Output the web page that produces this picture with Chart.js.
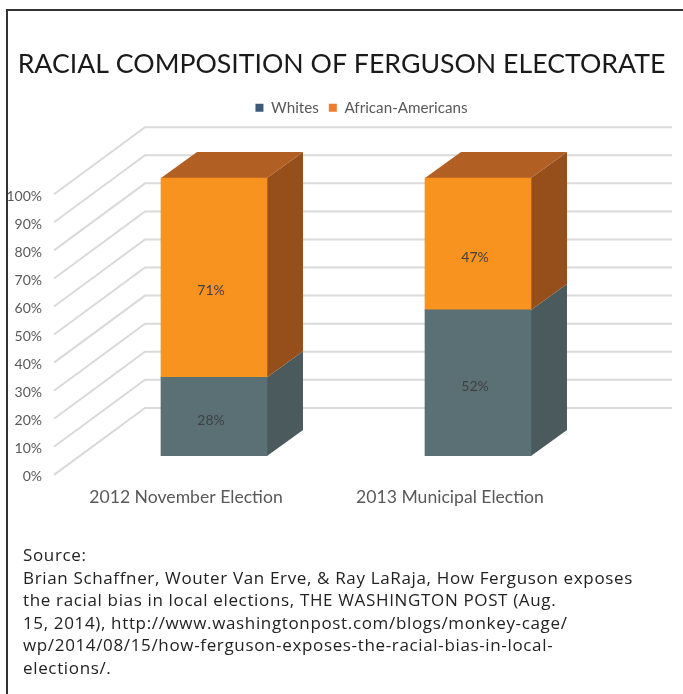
<!DOCTYPE html>
<html>
<head>
<meta charset="utf-8">
<script src="https://cdn.jsdelivr.net/npm/chart.js@4"></script>
<style>
  body { margin: 0; background: #fff; width: 683px; height: 694px; overflow: hidden; position: relative; }
  #graph { position: absolute; left: 0; top: 0; }
  #frame { position: absolute; left: 6px; top: 9px; width: 690px; height: 700px; border: solid #333; border-width: 2px 0 0 2px; }
  #source { position: absolute; left: 23px; top: 544px; width: 650px; font: 17px/22.6px "Open Sans", sans-serif; letter-spacing: 0.65px; color: #222; white-space: nowrap; }
</style>
</head>
<body>
<div id="frame"></div>
<canvas id="graph" width="683" height="694"></canvas>
<div id="source">Source:<br>
Brian Schaffner, Wouter Van Erve, &amp; Ray LaRaja, How Ferguson exposes<br>
the racial bias in local elections, THE WASHINGTON POST (Aug.<br>
15, 2014), http://www.washingtonpost.com/blogs/monkey-cage/<br>
wp/2014/08/15/how-ferguson-exposes-the-racial-bias-in-local-<br>
elections/.</div>
<script>
var categories = ["2012 November Election", "2013 Municipal Election"];
var whites = [28, 52];
var africanAmericans = [71, 47];
var seriesNames = ["Whites", "African-Americans"];
var legendColors = ["#3c5a78", "#ed7d31"];
var frontColors = ["#5a7074", "#f7931e"];
var sideColors = ["#4a5a5d", "#964f1b"];
var topColors = ["#4f6266", "#b25f24"];
var fontName = "Lato, sans-serif";

// the 3D look: walls behind the bars, side and top faces next to them
var depth3d = {
  id: "depth3d",
  beforeInit: function(chart) {
    // room between the legend and the plot
    var fit = chart.legend.fit;
    chart.legend.fit = function() {
      fit.call(this);
      this.height += 50;
    };
  },
  afterLayout: function(chart) {
    // title and legend are centred on the page, not on the narrowed plot
    chart.titleBlock.left = 0;
    chart.titleBlock.right = 683;
    chart.legend.left = 0;
    chart.legend.right = 723;
  },
  beforeDatasetsDraw: function(chart) {
    var ctx = chart.ctx, y = chart.scales.y;
    ctx.save();
    ctx.strokeStyle = "#dadada";
    ctx.lineWidth = 2;
    y.ticks.forEach(function(t) {
      var py = y.getPixelForValue(t.value) + 19;
      ctx.beginPath();
      ctx.moveTo(54, py);
      ctx.lineTo(145, py - 67);
      ctx.lineTo(672, py - 67);
      ctx.stroke();
    });
    chart.data.datasets.forEach(function(ds, d) {
      chart.getDatasetMeta(d).data.forEach(function(bar) {
        var r = bar.x + bar.width / 2, l = bar.x - bar.width / 2;
        ctx.fillStyle = sideColors[d];
        ctx.beginPath();
        ctx.moveTo(r, bar.y);
        ctx.lineTo(r + 36, bar.y - 26);
        ctx.lineTo(r + 36, bar.base - 26);
        ctx.lineTo(r, bar.base);
        ctx.fill();
        if (d == 1) {
          ctx.fillStyle = topColors[d];
          ctx.beginPath();
          ctx.moveTo(l, bar.y);
          ctx.lineTo(l + 36, bar.y - 26);
          ctx.lineTo(r + 36, bar.y - 26);
          ctx.lineTo(r, bar.y);
          ctx.fill();
        }
      });
    });
    ctx.restore();
  },
  afterDatasetsDraw: function(chart) {
    var ctx = chart.ctx;
    ctx.save();
    ctx.fillStyle = "#404040";
    ctx.font = "14px " + fontName;
    ctx.textAlign = "center";
    ctx.textBaseline = "middle";
    chart.data.datasets.forEach(function(ds, d) {
      chart.getDatasetMeta(d).data.forEach(function(bar, i) {
        ctx.fillText(ds.data[i] + "%", bar.x - 3, (bar.y + bar.base) / 2 + (d == 1 ? 13 : 4));
      });
    });
    ctx.restore();
  }
};

new Chart("graph", {
  type: "bar",
  data: {
    labels: categories,
    datasets: [
      { label: seriesNames[0], data: whites, backgroundColor: frontColors[0], barThickness: 106 },
      { label: seriesNames[1], data: africanAmericans, backgroundColor: frontColors[1], barThickness: 106 }
    ]
  },
  options: {
    responsive: false,
    animation: false,
    layout: { padding: { left: 0, right: 73, top: 48, bottom: 163 } },
    plugins: {
      title: {
        display: true,
        text: "RACIAL COMPOSITION OF FERGUSON ELECTORATE",
        color: "#1a1a1a",
        font: { family: fontName, size: 26.7, weight: "normal" },
        padding: { top: 0, bottom: 10 }
      },
      legend: {
        position: "top",
        labels: {
          color: "#595959",
          font: { family: fontName, size: 15.2 },
          boxWidth: 8,
          boxHeight: 8,
          generateLabels: function() {
            return seriesNames.map(function(n, i) {
              return { text: n, fillStyle: legendColors[i], strokeStyle: legendColors[i], lineWidth: 0, fontColor: "#595959", datasetIndex: i };
            });
          }
        }
      }
    },
    scales: {
      x: {
        stacked: true,
        grid: { display: false },
        border: { display: false },
        ticks: { color: "#595959", labelOffset: -28, padding: 23, font: { family: fontName, size: 17.6 } }
      },
      y: {
        stacked: true,
        min: 0,
        max: 100,
        grid: { display: false },
        border: { display: false },
        afterFit: function(scale) { scale.width = 82; },
        ticks: {
          stepSize: 10,
          color: "#595959",
          labelOffset: 21,
          padding: 32,
          font: { family: fontName, size: 14 },
          callback: function(v) { return v + "%"; }
        }
      }
    }
  },
  plugins: [depth3d]
});
</script>
</body>
</html>
